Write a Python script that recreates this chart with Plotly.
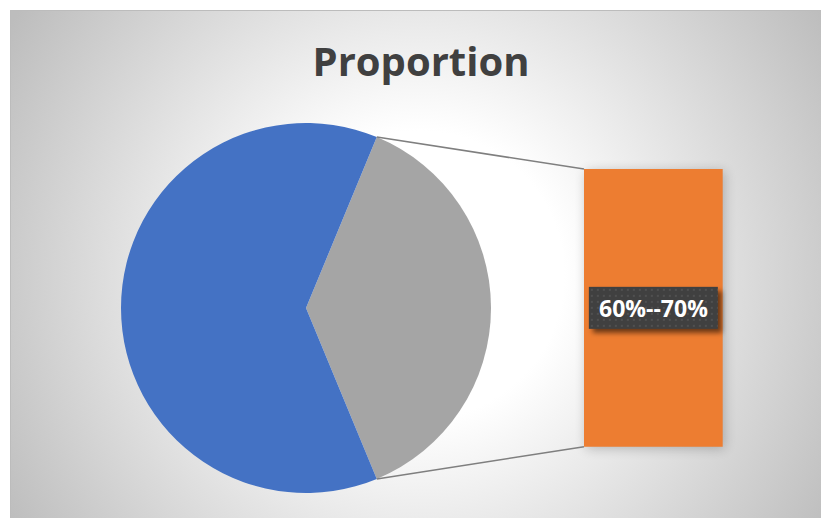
import base64
import math

import plotly.graph_objects as go

# ---- data -------------------------------------------------------------
main_label = "Main"
main_value = 5
bar_labels = ["60%--70%"]
bar_values = [3]
title_text = "Proportion"

# ---- styling / layout constants -----------------------------------------
W, H = 821, 518
BLUE, GRAY, ORANGE = "#4472C4", "#A5A5A5", "#ED7D31"
PIE_CX, PIE_CY, PIE_R = 306, 308, 185          # pie centre / radius (px)
BAR_X0, BAR_X1 = 584, 722.7                    # bar horizontal extent (px)
BAR_Y0, BAR_Y1 = 169, 446.7                    # bar vertical extent (px, from top)
LABEL_W, LABEL_H = 129, 42

other_value = sum(bar_values)
pie_values = [other_value, main_value]
pie_labels = ["Other", main_label]
total = sum(pie_values)

# the "Other" slice is centred on 3 o'clock
other_span = 360.0 * other_value / total
rotation = 90.0 - other_span / 2.0


def px_to_paper(x, y):
    return x / W, 1 - y / H


fig = go.Figure()

fig.add_trace(go.Pie(
    labels=pie_labels,
    values=pie_values,
    sort=False,
    direction="clockwise",
    rotation=rotation,
    marker=dict(colors=[GRAY, BLUE], line=dict(width=0)),
    textinfo="none",
    hoverinfo="label+value",
    showlegend=False,
    domain=dict(
        x=[(PIE_CX - PIE_R) / W, (PIE_CX + PIE_R) / W],
        y=[1 - (PIE_CY + PIE_R) / H, 1 - (PIE_CY - PIE_R) / H],
    ),
))

fig.add_trace(go.Bar(
    x=[0] * len(bar_values),
    y=bar_values,
    width=1,
    marker=dict(color=ORANGE, line=dict(width=0)),
    showlegend=False,
    hovertext=bar_labels,
    hoverinfo="text+y",
))

# connector lines from the edges of the "Other" slice to the bar corners
a_top = math.radians(rotation)
a_bot = math.radians(rotation + other_span)
p_top = (PIE_CX + PIE_R * math.sin(a_top), PIE_CY - PIE_R * math.cos(a_top))
p_bot = (PIE_CX + PIE_R * math.sin(a_bot), PIE_CY - PIE_R * math.cos(a_bot))
shapes = []
for (px, py), (bx, by) in [(p_top, (BAR_X0, BAR_Y0)), (p_bot, (BAR_X0, BAR_Y1))]:
    x0, y0 = px_to_paper(px, py)
    x1, y1 = px_to_paper(bx, by)
    shapes.append(dict(type="line", xref="paper", yref="paper",
                       x0=x0, y0=y0, x1=x1, y1=y1,
                       line=dict(color="#7F7F7F", width=1.6)))

# chart-area background: radial gradient, border, soft shadow under the bar
bg_svg = f"""<svg xmlns='http://www.w3.org/2000/svg' width='{W}' height='{H}' viewBox='0 0 {W} {H}'>
<defs>
<radialGradient id='g' gradientUnits='userSpaceOnUse' cx='420' cy='275' r='480'>
<stop offset='0' stop-color='#ffffff'/>
<stop offset='0.3' stop-color='#ffffff'/>
<stop offset='1' stop-color='#bdbdbd'/>
</radialGradient>
<filter id='s' x='-50%' y='-50%' width='200%' height='200%'><feGaussianBlur stdDeviation='6'/></filter>
</defs>
<rect x='10' y='10' width='{W-10}' height='{H-10}' fill='url(#g)'/>
<path d='M10.5 {H} V10.5 H{W}' fill='none' stroke='#bcbcbc' stroke-width='1'/>
<rect x='{BAR_X0+2}' y='{BAR_Y0+2}' width='{BAR_X1-BAR_X0}' height='{BAR_Y1-BAR_Y0}' fill='#000' opacity='0.22' filter='url(#s)'/>
</svg>"""

# data-label box: dark fill with dotted texture and drop shadow
lcx = (BAR_X0 + BAR_X1) / 2
lcy = (BAR_Y0 + BAR_Y1) / 2
lx0, ly0 = lcx - LABEL_W / 2, lcy - LABEL_H / 2
label_svg = f"""<svg xmlns='http://www.w3.org/2000/svg' width='{W}' height='{H}' viewBox='0 0 {W} {H}'>
<defs>
<filter id='ls' x='-50%' y='-50%' width='200%' height='200%'><feGaussianBlur stdDeviation='2.5'/></filter>
<pattern id='d' x='{lx0}' y='{ly0}' width='6' height='6' patternUnits='userSpaceOnUse'>
<rect width='6' height='6' fill='#404040'/>
<circle cx='3' cy='3' r='1' fill='#555555'/>
</pattern>
</defs>
<rect x='{lx0+4}' y='{ly0+4}' width='{LABEL_W}' height='{LABEL_H}' fill='#000' opacity='0.55' filter='url(#ls)'/>
<rect x='{lx0}' y='{ly0}' width='{LABEL_W}' height='{LABEL_H}' fill='url(#d)'/>
</svg>"""


def svg_uri(s):
    return "data:image/svg+xml;base64," + base64.b64encode(s.encode()).decode()


images = [
    dict(source=svg_uri(bg_svg), xref="paper", yref="paper", x=0, y=1,
         sizex=1, sizey=1, xanchor="left", yanchor="top", sizing="stretch",
         layer="below"),
    dict(source=svg_uri(label_svg), xref="paper", yref="paper", x=0, y=1,
         sizex=1, sizey=1, xanchor="left", yanchor="top", sizing="stretch",
         layer="above"),
]

annotations = [
    dict(x=0, y=bar_values[0] / 2, xref="x", yref="y",
         text=f"<b>{bar_labels[0]}</b>", showarrow=False,
         font=dict(family="Open Sans", size=23, color="#FFFFFF"),
         xanchor="center", yanchor="middle"),
]

fig.update_layout(
    width=W, height=H,
    margin=dict(l=0, r=0, t=0, b=0),
    paper_bgcolor="#FFFFFF",
    plot_bgcolor="rgba(0,0,0,0)",
    title=dict(text=f"<b>{title_text}</b>", x=421 / W, xanchor="center",
               y=1 - 62 / H, yanchor="middle",
               font=dict(family="Open Sans", size=40, color="#404040")),
    xaxis=dict(domain=[BAR_X0 / W, BAR_X1 / W], range=[-0.5, 0.5],
               visible=False, fixedrange=True),
    yaxis=dict(domain=[1 - BAR_Y1 / H, 1 - BAR_Y0 / H], range=[0, other_value],
               visible=False, fixedrange=True),
    shapes=shapes,
    images=images,
    annotations=annotations,
    bargap=0,
)

fig.write_html("out.html")
